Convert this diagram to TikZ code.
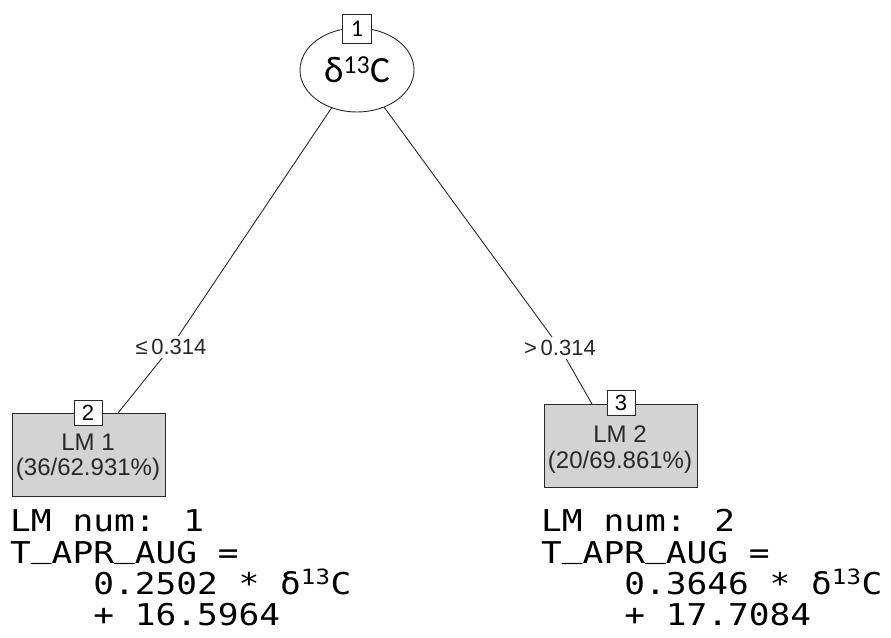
\documentclass[tikz,border=0pt]{standalone}
\usepackage{fontspec}
\usetikzlibrary{shapes.geometric}
\newfontfamily\labf{Liberation Sans}
\newfontfamily\rootf{Carlito}
\newfontfamily\monof[FakeStretch=1.15]{DejaVu Sans Mono}
\definecolor{boxgray}{RGB}{211,211,211}
\definecolor{ink}{RGB}{40,40,40}
\newcommand\usc{\raisebox{0.2em}{\_}}
\begin{document}
\begin{tikzpicture}[x=1pt,y=-1pt,
 conn/.style={draw=ink, line width=0.9pt},
 rootnode/.style={ellipse, draw=ink, line width=0.9pt, minimum width=114pt, minimum height=84pt, inner sep=0pt, font=\rootf\fontsize{37}{40}\selectfont},
 idbox/.style={rectangle, draw=ink, fill=white, line width=0.9pt, minimum width=28pt, minimum height=25pt, inner sep=0pt, font=\labf\fontsize{22}{24}\selectfont},
 leafbox/.style={rectangle, draw=ink, fill=boxgray, line width=0.9pt, minimum width=153pt, minimum height=83pt, inner sep=0pt},
 leaftxt/.style={font=\labf\fontsize{24}{26}\selectfont, text=ink, inner sep=0pt},
 edgelab/.style={font=\labf\fontsize{22}{24}\selectfont, text=ink, inner sep=3pt, fill=white},
 lmtxt/.style={font=\monof\fontsize{30}{32}\selectfont, anchor=base west, inner sep=0pt, text height=22pt, text depth=6pt}
]
\useasboundingbox (0,0) rectangle (891,637);
% root
\node[rootnode] (root) at (357,70) {δ\textsuperscript{13}C};
\node[idbox, minimum width=29pt, minimum height=29pt, font=\rootf\fontsize{24}{26}\selectfont] (id1) at (357,29) {1};
% leaves
\node[leafbox] (lm1) at (88.5,454.5) {};
\node[leafbox] (lm2) at (620.5,445.5) {};
\node[idbox] (id2) at (88,413) {2};
\node[idbox] (id3) at (621,403) {3};
\node[leaftxt] (t1a) at (88,442) {LM 1};
\node[leaftxt] (t1b) at (88,469) {(36/62.931\%)};
\node[leaftxt] (t2a) at (620,434) {LM 2};
\node[leaftxt] (t2b) at (620,462) {(20/69.861\%)};
% edge labels
\node[edgelab] (le) at (171,347) {≤\,0.314};
\node[edgelab] (gt) at (560,348) {>\,0.314};
\coordinate (a1) at (118,413);
\coordinate (a2) at (592,404);
\draw[conn] (root) -- (le);
\draw[conn] (le) -- (a1);
\draw[conn] (root) -- (gt);
\draw[conn] (gt) -- (a2);
% linear models
\node[lmtxt] (m1a) at (10,531) {LM num: 1};
\node[lmtxt] (m1b) at (10,563) {T\usc APR\usc AUG =};
\node[lmtxt] (m1c) at (10,594) {\hphantom{0000}0.2502 * δ\textsuperscript{13}C};
\node[lmtxt] (m1d) at (10,625) {\hphantom{0000}+ 16.5964};
\node[lmtxt] (m2a) at (541,531) {LM num: 2};
\node[lmtxt] (m2b) at (541,563) {T\usc APR\usc AUG =};
\node[lmtxt] (m2c) at (541,594) {\hphantom{0000}0.3646 * δ\textsuperscript{13}C};
\node[lmtxt] (m2d) at (541,625) {\hphantom{0000}+ 17.7084};
\end{tikzpicture}
\end{document}
